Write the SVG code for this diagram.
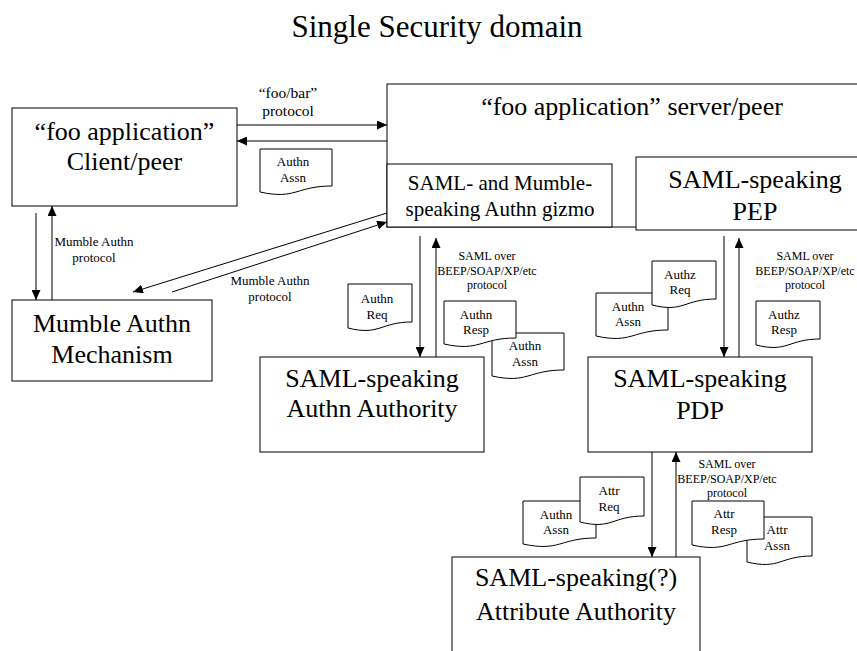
<svg xmlns="http://www.w3.org/2000/svg" width="857" height="651" viewBox="0 0 857 651">
<defs>
<marker id="ah" markerUnits="userSpaceOnUse" markerWidth="11" markerHeight="9" refX="10" refY="4.5" orient="auto">
<path d="M0,0 L10,4.5 L0,9 Z" fill="#000"/>
</marker>
<style>
text{font-family:'Liberation Serif','Times New Roman','DejaVu Serif',serif;fill:#000;text-anchor:middle}
.box{fill:#fff;stroke:#000;stroke-width:1}
.doc{fill:#fff;stroke:#000;stroke-width:1}
.big{font-size:26px}
.mid{font-size:21px}
.title{font-size:31px}
.lbl{font-size:15.5px}
.sm{font-size:13px}
.xs{font-size:12px}
.con{stroke:#000;stroke-width:1;fill:none;marker-end:url(#ah)}
</style>
</defs>
<rect width="857" height="651" fill="#fff"/>
<g font-family="'Liberation Serif','Times New Roman','DejaVu Serif',serif">
<text class="title" x="437" y="37">Single Security domain</text>

<g id="client">
<rect class="box" x="12" y="108" width="225" height="98"/>
<text class="big" x="124.5" y="140">“foo application”</text>
<text class="big" x="124.5" y="170">Client/peer</text>
</g>

<g id="server">
<rect class="box" x="387" y="84" width="490" height="143"/>
<text class="big" x="632" y="115">“foo application” server/peer</text>
</g>

<g id="gizmo">
<rect class="box" x="387" y="164" width="225" height="63"/>
<text class="mid" x="500" y="190">SAML- and Mumble-</text>
<text class="mid" x="500" y="216">speaking Authn gizmo</text>
</g>

<g id="pep">
<rect class="box" x="636" y="157" width="238" height="73"/>
<text class="big" x="755" y="188">SAML-speaking</text>
<text class="big" x="755" y="220">PEP</text>
</g>

<g id="mumble">
<rect class="box" x="12" y="300" width="200" height="81"/>
<text class="big" x="112" y="332">Mumble Authn</text>
<text class="big" x="112" y="363">Mechanism</text>
</g>

<g id="authn-authority">
<rect class="box" x="260" y="357" width="224" height="95"/>
<text class="big" x="372" y="387">SAML-speaking</text>
<text class="big" x="372" y="417">Authn Authority</text>
</g>

<g id="pdp">
<rect class="box" x="588" y="357" width="224" height="95"/>
<text class="big" x="700" y="387">SAML-speaking</text>
<text class="big" x="700" y="419">PDP</text>
</g>

<g id="attr-authority">
<rect class="box" x="452" y="557" width="248" height="110"/>
<text class="big" x="576" y="586">SAML-speaking(?)</text>
<text class="big" x="576" y="620">Attribute Authority</text>
</g>

<g id="connectors">
<line class="con" x1="237" y1="125" x2="387" y2="125"/>
<line class="con" x1="387" y1="141" x2="237" y2="141"/>
<line class="con" x1="36" y1="213" x2="36" y2="300"/>
<line class="con" x1="52" y1="300" x2="52" y2="206"/>
<line class="con" x1="387" y1="213" x2="133" y2="292"/>
<line class="con" x1="172" y1="292" x2="387" y2="222"/>
<line class="con" x1="420" y1="236" x2="420" y2="357"/>
<line class="con" x1="436" y1="357" x2="436" y2="238"/>
<line class="con" x1="724" y1="236" x2="724" y2="357"/>
<line class="con" x1="739" y1="357" x2="739" y2="238"/>
<line class="con" x1="652" y1="452" x2="652" y2="557"/>
<line class="con" x1="676" y1="557" x2="676" y2="452"/>
</g>

<g id="connector-labels">
<text class="lbl" x="288" y="98">“foo/bar”</text>
<text class="lbl" x="288" y="116">protocol</text>
<text class="sm" x="94" y="246">Mumble Authn</text>
<text class="sm" x="94" y="262">protocol</text>
<text class="sm" x="270" y="285">Mumble Authn</text>
<text class="sm" x="270" y="301">protocol</text>
<text class="xs" x="487" y="260">SAML over</text>
<text class="xs" x="487" y="275">BEEP/SOAP/XP/etc</text>
<text class="xs" x="487" y="289">protocol</text>
<text class="xs" x="805" y="260">SAML over</text>
<text class="xs" x="805" y="275">BEEP/SOAP/XP/etc</text>
<text class="xs" x="805" y="289">protocol</text>
<text class="xs" x="727" y="468">SAML over</text>
<text class="xs" x="727" y="483">BEEP/SOAP/XP/etc</text>
<text class="xs" x="727" y="497">protocol</text>
</g>

<g id="doc-authn-assn-1">
<path class="doc" d="M260,149 H332 V186 C296,186 296,200 260,192 Z"/>
<text class="sm" x="293" y="166">Authn</text>
<text class="sm" x="293" y="182">Assn</text>
</g>

<g id="doc-authn-req">
<path class="doc" d="M348,284 H412 V322 C380,322 380,336 348,328 Z"/>
<text class="sm" x="377" y="303">Authn</text>
<text class="sm" x="377" y="319">Req</text>
</g>

<g id="doc-authn-assn-2">
<path class="doc" d="M492,333 H564 V370 C528,370 528,384 492,376 Z"/>
<text class="sm" x="525" y="350">Authn</text>
<text class="sm" x="525" y="366">Assn</text>
</g>

<g id="doc-authn-resp">
<path class="doc" d="M444,301 H516 V338 C480,338 480,352 444,344 Z"/>
<text class="sm" x="476" y="319">Authn</text>
<text class="sm" x="476" y="334">Resp</text>
</g>

<g id="doc-authn-assn-3">
<path class="doc" d="M596,293 H668 V330 C632,330 632,344 596,336 Z"/>
<text class="sm" x="628" y="311">Authn</text>
<text class="sm" x="628" y="326">Assn</text>
</g>

<g id="doc-authz-req">
<path class="doc" d="M652,261 H716 V299 C684,299 684,313 652,305 Z"/>
<text class="sm" x="680" y="279">Authz</text>
<text class="sm" x="680" y="294">Req</text>
</g>

<g id="doc-authz-resp">
<path class="doc" d="M756,301 H820 V339 C788,339 788,353 756,345 Z"/>
<text class="sm" x="784" y="319">Authz</text>
<text class="sm" x="784" y="334">Resp</text>
</g>

<g id="doc-authn-assn-4">
<path class="doc" d="M523,501 H596 V538 C560,538 560,552 523,544 Z"/>
<text class="sm" x="556" y="519">Authn</text>
<text class="sm" x="556" y="534">Assn</text>
</g>

<g id="doc-attr-req">
<path class="doc" d="M580,477 H644 V516 C612,516 612,530 580,522 Z"/>
<text class="sm" x="609" y="495">Attr</text>
<text class="sm" x="609" y="511">Req</text>
</g>

<g id="doc-attr-assn">
<path class="doc" d="M747,517 H812 V556 C780,556 780,570 747,562 Z"/>
<text class="sm" x="777" y="534">Attr</text>
<text class="sm" x="777" y="550">Assn</text>
</g>

<g id="doc-attr-resp">
<path class="doc" d="M692,501 H764 V539 C728,539 728,553 692,545 Z"/>
<text class="sm" x="724" y="518">Attr</text>
<text class="sm" x="724" y="534">Resp</text>
</g>
</g>
</svg>
